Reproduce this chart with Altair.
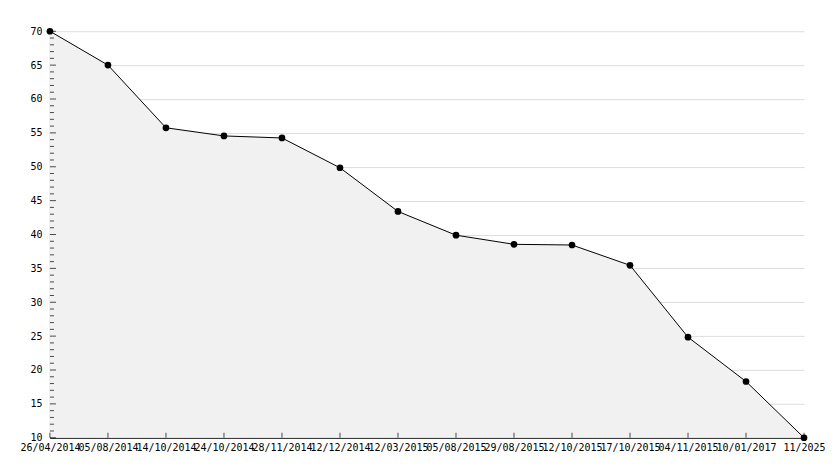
import altair as alt
import pandas as pd

dates = ["26/04/2014", "05/08/2014", "14/10/2014", "24/10/2014", "28/11/2014",
         "12/12/2014", "12/03/2015", "05/08/2015", "29/08/2015", "12/10/2015",
         "17/10/2015", "04/11/2015", "10/01/2017", "11/2025"]
values = [70, 65, 55.75, 54.55, 54.25, 49.85, 43.4, 39.9, 38.55, 38.45,
          35.45, 24.85, 18.3, 10]
y_major = list(range(10, 71, 5))
y_minor = [v for v in range(10, 71) if v % 5 != 0]

df = pd.DataFrame({"date": dates, "value": values})
df_major = pd.DataFrame({"value": y_major})
df_minor = pd.DataFrame({"value": y_minor})

FONT = "DejaVu Sans Mono"

xscale = alt.Scale(type="point", padding=0, domain=dates)
yscale = alt.Scale(domain=[10, 70], nice=False, zero=False)

x_axis = alt.Axis(title=None, labelAngle=0, ticks=False, grid=False,
                  domainColor="black", labelOverlap=False,
                  labelPadding=5, labelFont=FONT, labelFontSize=10,
                  labelColor="black")
y_axis = alt.Axis(title=None, values=y_major, ticks=False, grid=True,
                  gridColor="#dddddd", domainColor="black",
                  labelOverlap=False, labelPadding=8, labelFont=FONT,
                  labelFontSize=10, labelColor="black")

xn = alt.X("date:N", scale=xscale, sort=None, axis=x_axis)
yn = alt.Y("value:Q", scale=yscale, axis=y_axis)

base = alt.Chart(df)

area = base.mark_area(color="#f1f1f1", line=False).encode(
    x=xn, y=yn, y2=alt.datum(10))
line = base.mark_line(color="black", strokeWidth=1).encode(x=xn, y=yn)
pts = base.mark_point(filled=True, color="black", size=45, opacity=1,
                      shape="circle").encode(x=xn, y=yn)

xticks = base.mark_tick(orient="vertical", size=5, thickness=1, color="black",
                        yOffset=-2.5).encode(
    x=xn, y=alt.datum(10, scale=yscale, axis=y_axis))

ymaj = alt.Chart(df_major).mark_tick(orient="horizontal", size=6, thickness=1,
                                     color="black", xOffset=3).encode(
    y=yn, x=alt.datum(dates[0], type="nominal", scale=xscale, axis=x_axis))
ymin = alt.Chart(df_minor).mark_tick(orient="horizontal", size=4, thickness=1,
                                     color="black", xOffset=2).encode(
    y=yn, x=alt.datum(dates[0], type="nominal", scale=xscale, axis=x_axis))

chart = alt.layer(area, line, xticks, ymaj, ymin, pts).properties(
    width=755, height=407,
    autosize=alt.AutoSizeParams(type="none"),
    padding={"left": 42, "top": 23, "right": 22, "bottom": 24},
    background="white",
).configure_view(stroke=None)

chart.save("out.html", embed_options={"renderer": "svg", "actions": False})
